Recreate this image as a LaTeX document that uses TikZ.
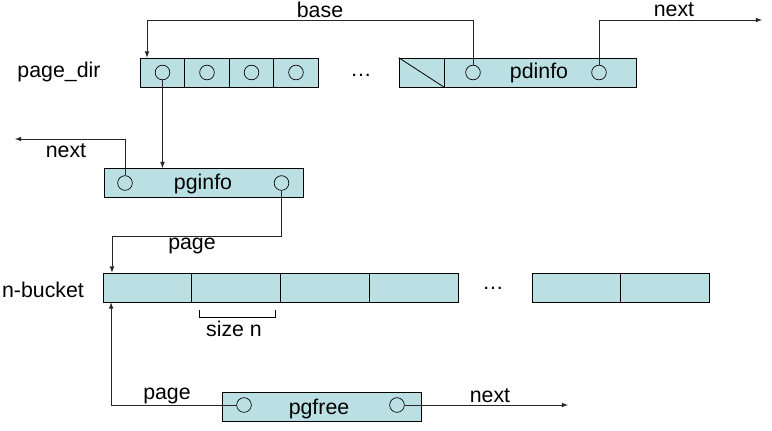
\documentclass[tikz,border=0pt]{standalone}
\usepackage{fontspec}
\setmainfont{Liberation Sans}
\usepackage{xcolor}
\usepackage{tikz}
\usetikzlibrary{calc}
\definecolor{cellfill}{HTML}{BBE0E3}

\tikzset{
  cell/.style={draw=black, fill=cellfill, line width=0.6pt, inner sep=0pt, minimum height=21.75pt},
  hole/.style={circle, draw=black, line width=0.5pt, inner sep=0pt, minimum size=11pt},
  link/.style={draw=black!85, line width=0.6pt},
  lbl/.style={font=\fontsize{16}{19}\selectfont, inner sep=0pt}
}

\begin{document}
\begin{tikzpicture}[x=0.75pt, y=-0.75pt, >=latex]
\useasboundingbox (0,0) rectangle (772,430);
% page_dir row
\node[lbl] (dirlbl) at (59,72) {page\_dir};
\node[cell, minimum width=33.375pt] (d1) at (162.5,72.5) {};
\node[cell, minimum width=33.375pt] (d2) at (207,72.5) {};
\node[cell, minimum width=33.375pt] (d3) at (251.5,72.5) {};
\node[cell, minimum width=33.375pt] (d4) at (296,72.5) {};
\node[hole] (c1) at (d1) {};
\node[hole] (c2) at (d2) {};
\node[hole] (c3) at (d3) {};
\node[hole] (c4) at (d4) {};
\node[lbl] (dirdots) at (361,75) {\dots};
% pdinfo
\node[cell, minimum width=33.75pt] (slash) at (421.5,72.5) {};
\draw[line width=0.6pt] (slash.north west) -- (slash.south east);
\node[cell, minimum width=144pt] (pdinfo) at (540,72.5) {};
\node[lbl] (pdtxt) at (539,73) {pdinfo};
\node[hole] (pd1) at (473,72.5) {};
\node[hole] (pd2) at (599,72.5) {};
% pginfo
\node[cell, minimum width=149.25pt] (pginfo) at (203.5,183) {};
\node[lbl] (pgtxt) at (203,184) {pginfo};
\node[hole] (gi1) at (125,183) {};
\node[hole] (gi2) at (281.5,183) {};
% n-bucket row
\node[lbl] (bktlbl) at (43,290) {n-bucket};
\node[cell, minimum width=66.6pt] (b1) at (147.4,287.5) {};
\node[cell, minimum width=66.6pt] (b2) at (236.2,287.5) {};
\node[cell, minimum width=66.6pt] (b3) at (325,287.5) {};
\node[cell, minimum width=66.6pt] (b4) at (413.8,287.5) {};
\node[lbl] (bktdots) at (493,288) {\dots};
\node[cell, minimum width=66.6pt] (b5) at (576.4,287.5) {};
\node[cell, minimum width=66.6pt] (b6) at (665.2,287.5) {};
\draw[line width=0.6pt] (199,310) -- (199,317) -- (275,317) -- (275,310);
\node[lbl] (sizelbl) at (234,329) {size n};
% pgfree
\node[cell, minimum width=149.25pt] (pgfree) at (321.5,406.5) {};
\node[lbl] (frtxt) at (319,409) {pgfree};
\node[hole] (fr1) at (244,405) {};
\node[hole] (fr2) at (397,405) {};
% connectors
\coordinate (baseturn) at (147,20);
\coordinate (nextR) at (762,20);
\coordinate (nextL) at (15,139);
\coordinate (pgturn) at (112,236);
\coordinate (nextB) at (568,405);
\draw[link,->] (pd1.north) |- (baseturn) -- (baseturn |- d1.north);
\draw[link,->] (pd2.north) |- (nextR);
\draw[link,->] (c1.south) -- (c1 |- pginfo.north);
\draw[link,->] (gi1.north) |- (nextL);
\draw[link,->] (gi2.south) |- (pgturn) -- (pgturn |- b1.north);
\draw[link,->] (fr1.west) -| ($(b1.south west)+(8.5,0)$);
\draw[link,->] (fr2.east) -- (nextB);
\node[lbl] (baselbl) at (320,10) {base};
\node[lbl] (nextRlbl) at (674,10) {next};
\node[lbl] (nextLlbl) at (66,151) {next};
\node[lbl] (pagelbl) at (192,246) {page};
\node[lbl] (pageBlbl) at (167,396) {page};
\node[lbl] (nextBlbl) at (490,396) {next};
\end{tikzpicture}
\end{document}
